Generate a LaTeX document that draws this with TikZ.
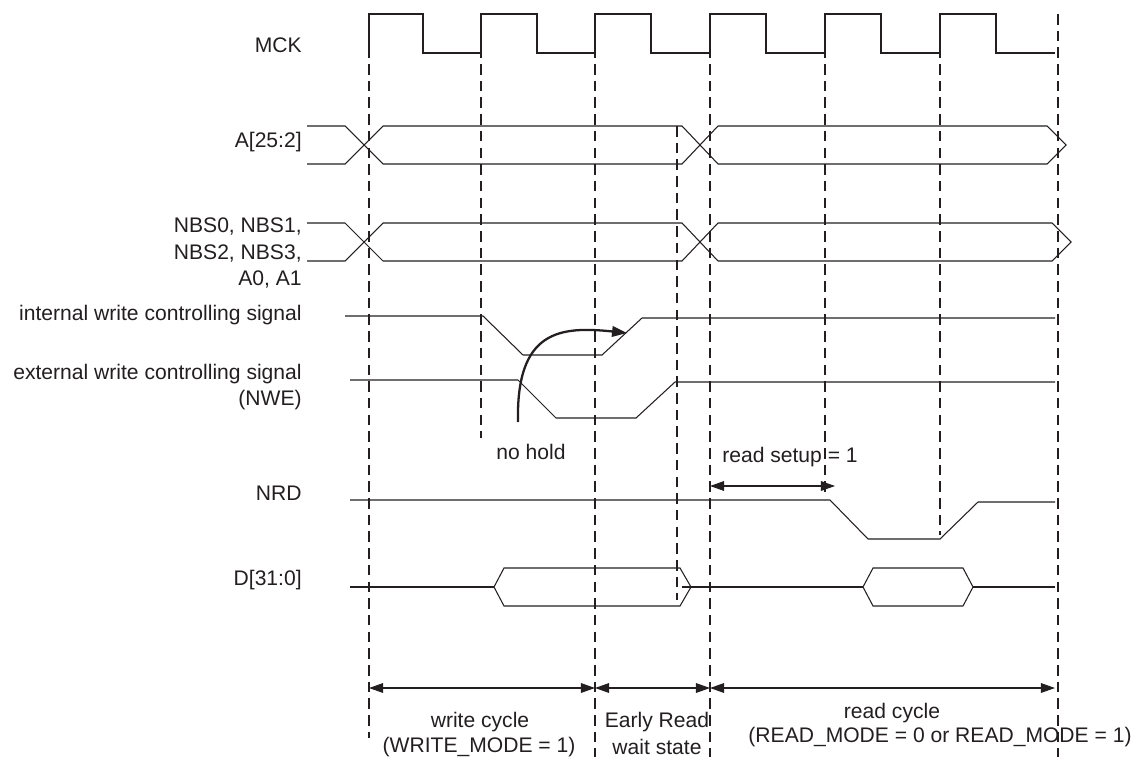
\documentclass[tikz,border=0pt]{standalone}
\usepackage{fontspec}
\setmainfont{Liberation Sans}
\usepackage{tikz}
\usetikzlibrary{
  arrows.meta,
  positioning,
  calc
}
\usepackage{xcolor}
\definecolor{inkgray}{HTML}{231F20}
\tikzset{
  wave/.style={draw=inkgray, line width=0.6pt, line join=miter},
  guide/.style={draw=inkgray, line width=0.6pt, dash pattern=on 6pt off 3.5pt},
  siglabel/.style={anchor=east, inner sep=0pt, align=right, text=inkgray,
    font=\fontsize{12}{15}\selectfont},
  note/.style={inner sep=0pt, align=center, text=inkgray,
    font=\fontsize{12}{15}\selectfont},
  dimarrow/.style={{Triangle[length=8pt,width=5.5pt]}-{Triangle[length=8pt,width=5.5pt]},
    draw=inkgray, line width=0.6pt},
  holdarrow/.style={-{Triangle[length=8.5pt,width=6pt]}, draw=inkgray, line width=1.3pt},
}

\begin{document}
\begin{tikzpicture}[x=0.02cm, y=-0.02cm]
\useasboundingbox (0,0) rectangle (1135,757);

% Signal names (left side)
\node[siglabel] (mck) at (302,45) {MCK};
\node[siglabel] (addr) at (302,142) {A[25:2]};
\node[siglabel] (nbs) at (302,253) {NBS0, NBS1,\\NBS2, NBS3,\\A0, A1};
\node[siglabel] (iwr) at (302,315) {internal write controlling signal};
\node[siglabel] (nwe) at (302,387) {external write controlling signal\\(NWE)};
\node[siglabel] (nrd) at (302,493) {NRD};
\node[siglabel] (data) at (302,580) {D[31:0]};

% Clock edge guides
\foreach \x/\a/\b in {369/14/738, 481/14/438, 595/14/757, 677/126/600,
                      710/14/757, 825/14/497, 940/14/535, 1058/14/757}
  \draw[guide] (\x,\a) -- (\x,\b);

% MCK
\draw[wave] (369,53) -- (369,14) -| (423,53) -| (481,14) -| (537,53) -| (595,14)
  -| (651,53) -| (710,14) -| (766,53) -| (825,14) -| (881,53) -| (940,14)
  -| (996,53) -- (1055,53);

% A[25:2] bus
\draw[wave] (307,126) -- (345,126) -- (383,164) -- (682,164) -- (718,126) -- (1047,126)
  -- (1066,145) -- (1047,164) -- (718,164) -- (682,126) -- (383,126) -- (345,164) -- (307,164);

% NBS / A0 A1 bus
\draw[wave] (307,223) -- (345,223) -- (383,261) -- (682,261) -- (718,223) -- (1052,223)
  -- (1071,242) -- (1052,261) -- (718,261) -- (682,223) -- (383,223) -- (345,261) -- (307,261);

% write strobes
\draw[wave] (345,316) -- (483,316) -- (523,355) -- (602,355) -- (642,318) -- (1055,318);
\draw[wave] (350,380) -- (518,380) -- (556,418) -- (636,418) -- (675,382) -- (1055,382);

% no hold
\coordinate (nh0) at (518,422);
\coordinate (nh1) at (627,333);
\draw[holdarrow] (nh0) .. controls (516,330) and (560,326) .. (nh1);
\node[note] (nohold) at (531,452) {no hold};

% NRD
\draw[wave] (350,500) -- (830,500) -- (868,539) -- (940,539) -- (978,502) -- (1055,502);
\coordinate (s0) at (710,486);
\coordinate (s1) at (835,486);
\draw[dimarrow] (s0) -- (s1);
\node[note] (setup) at (790,457) {read setup = 1};

% D[31:0]
\draw[wave] (350,587) -- (494,587);
\draw[wave] (494,587) -- (504,568) -- (680,568) -- (691,587)
  -- (680,606) -- (504,606) -- cycle;
\draw[wave] (682,587) -- (863,587);
\draw[wave] (863,587) -- (873,568) -- (963,568) -- (973,587)
  -- (963,606) -- (873,606) -- cycle;
\draw[wave] (973,587) -- (1055,587);

% Cycle spans
\coordinate (t0) at (369,688);
\coordinate (t1) at (595,688);
\coordinate (t2) at (710,688);
\coordinate (t3) at (1055,688);
\draw[dimarrow] (t0) -- (t1);
\draw[dimarrow] (t1) -- (t2);
\draw[dimarrow] (t2) -- (t3);
\node[note] (wcyc) at (480,722) {write cycle};
\node[note] (wmode) at (479,747) {(WRITE\_MODE = 1)};
\node[note] (early) at (657,722) {Early Read};
\node[note] (wait) at (657,747) {wait state};
\node[note] (rcyc) at (892,713) {read cycle};
\node[note] (rmode) at (940,737) {(READ\_MODE = 0 or READ\_MODE = 1)};

\end{tikzpicture}
\end{document}
